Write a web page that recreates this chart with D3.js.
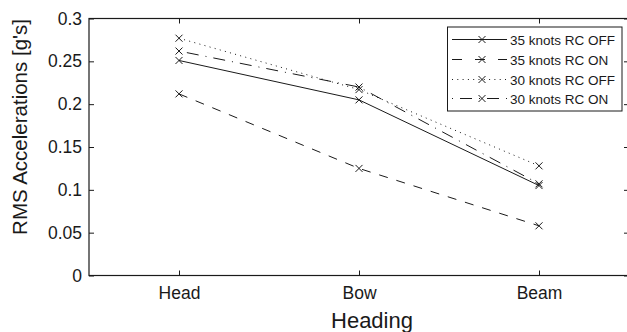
<!DOCTYPE html>
<html>
<head>
<meta charset="utf-8">
<script src="https://cdn.jsdelivr.net/npm/d3@7"></script>
<style>
  html, body { margin: 0; padding: 0; background: #fff; }
  svg { display: block; font-family: "Liberation Sans", Arial, Helvetica, sans-serif; }
</style>
</head>
<body>
<svg id="chart" width="627" height="332"></svg>
<script>
// Headings and measured RMS accelerations (g's) for each test condition
const headings = ["Head", "Bow", "Beam"];
const rc35Off = [0.251, 0.205, 0.105];
const rc35On  = [0.212, 0.125, 0.058];
const rc30Off = [0.277, 0.217, 0.128];
const rc30On  = [0.262, 0.220, 0.107];
const seriesNames = ["35 knots RC OFF", "35 knots RC ON", "30 knots RC OFF", "30 knots RC ON"];
const yTicks = [0, 0.05, 0.1, 0.15, 0.2, 0.25, 0.3];

const seriesValues = [rc35Off, rc35On, rc30Off, rc30On];
// solid, dashed, dotted, dash-dot
const dashes = [null, "9,9", "1,4.3", "1,7,12,7"];
const legendDashes = [null, "10,13", "1,4.3", "1,7,12,7"];
const ink = "#1a1a1a";

const svg = d3.select("#chart");
const plotL = 89, plotR = 629, plotT = 18.5, plotB = 275.5;

const x = d3.scaleLinear().domain([0.5, headings.length + 0.5]).range([plotL, plotR]);
const y = d3.scaleLinear().domain([0, 0.3]).range([plotB, plotT]);

// Frame
svg.append("rect")
  .attr("x", plotL).attr("y", plotT)
  .attr("width", plotR - plotL).attr("height", plotB - plotT)
  .attr("fill", "none").attr("stroke", ink).attr("stroke-width", 1.2);

const idx = headings.map((_, i) => i + 1);

// Axes with inward ticks
const gx = svg.append("g").attr("transform", `translate(0,${plotB})`)
  .call(d3.axisBottom(x).tickValues(idx).tickFormat(i => headings[i - 1])
    .tickSizeInner(-5).tickSizeOuter(0).tickPadding(11));
const gy = svg.append("g").attr("transform", `translate(${plotL},0)`)
  .call(d3.axisLeft(y).tickValues(yTicks).tickFormat(d => d3.format("")(+d.toFixed(2)))
    .tickSizeInner(-5).tickSizeOuter(0).tickPadding(7));
const gt = svg.append("g").attr("transform", `translate(0,${plotT})`)
  .call(d3.axisTop(x).tickValues(idx).tickFormat("").tickSizeInner(-5).tickSizeOuter(0));
const gr = svg.append("g").attr("transform", `translate(${plotR},0)`)
  .call(d3.axisRight(y).tickValues(yTicks).tickFormat("").tickSizeInner(-5).tickSizeOuter(0));

[gx, gy, gt, gr].forEach(g => {
  g.select(".domain").remove();
  g.selectAll(".tick line").attr("stroke", ink);
  g.selectAll("text").attr("fill", ink).style("font-size", "17.5px")
    .style("font-family", "'Liberation Sans', Arial, sans-serif");
});

// Axis titles
svg.append("text")
  .attr("x", 372).attr("y", 328).attr("text-anchor", "middle")
  .attr("fill", ink).style("font-size", "22px").text("Heading");
svg.append("text")
  .attr("transform", "translate(27,127) rotate(-90)")
  .attr("text-anchor", "middle")
  .attr("fill", ink).style("font-size", "20.5px").text("RMS Accelerations [g's]");

// Cross marker path
const cross = (cx, cy, r = 3.5) =>
  `M${cx - r},${cy - r}L${cx + r},${cy + r}M${cx - r},${cy + r}L${cx + r},${cy - r}`;

const line = d3.line().x((d, i) => x(i + 1)).y(d => y(d));

seriesValues.forEach((vals, s) => {
  const g = svg.append("g");
  g.append("path")
    .attr("d", line(vals))
    .attr("fill", "none").attr("stroke", ink).attr("stroke-width", 1)
    .attr("stroke-dasharray", dashes[s]);
  g.selectAll("path.mk").data(vals).join("path")
    .attr("class", "mk")
    .attr("d", (d, i) => cross(x(i + 1), y(d)))
    .attr("stroke", ink).attr("stroke-width", 1).attr("fill", "none");
});

// Legend
const lg = svg.append("g");
lg.append("rect")
  .attr("x", 447.5).attr("y", 27).attr("width", 174.5).attr("height", 84)
  .attr("fill", "#fff").attr("stroke", ink).attr("stroke-width", 1);
const rowY = [39.5, 59.5, 79.5, 98.5];
seriesNames.forEach((name, s) => {
  const ry = rowY[s];
  lg.append("line")
    .attr("x1", 452).attr("x2", 507).attr("y1", ry).attr("y2", ry)
    .attr("stroke", ink).attr("stroke-width", 1)
    .attr("stroke-dasharray", legendDashes[s]);
  lg.append("path").attr("d", cross(482, ry))
    .attr("stroke", ink).attr("stroke-width", 1).attr("fill", "none");
  lg.append("text")
    .attr("x", 510).attr("y", ry + 5)
    .attr("fill", ink).style("font-size", "13.5px").text(name);
});
</script>
</body>
</html>
